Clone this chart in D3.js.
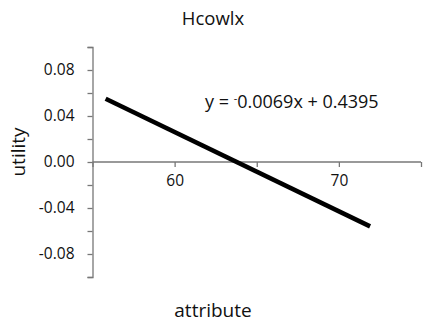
<!DOCTYPE html>
<html>
<head>
<meta charset="utf-8">
<script src="https://cdn.jsdelivr.net/npm/d3@7"></script>
<style>
  body { margin: 0; background: #fff; }
  text { font-family: "Open Sans", "Noto Sans", sans-serif; fill: #111; }
</style>
</head>
<body>
<script>
// chart size
const width = 423;
const height = 324;

// data
const title = 'Hcowlx';
const xLabel = 'attribute';
const yLabel = 'utility';
const lineX = [55.8, 71.9];
const lineY = [0.055, -0.056];
const xTicks = [55, 60, 65, 70, 75];
const xTickLabels = ['', '60', '', '70', ''];
const yTicks = [-0.10, -0.08, -0.06, -0.04, -0.02, 0, 0.02, 0.04, 0.06, 0.08, 0.10];
const yTickLabels = ['', '-0.08', '', '-0.04', '', '0.00', '', '0.04', '', '0.08', ''];
const eqSign = '-';
const eqRest = '0.0069x + 0.4395';

const svg = d3.select('body')
  .append('svg')
  .attr('width', width)
  .attr('height', height);

const x = d3.scaleLinear().domain([55, 75]).range([92.5, 421]);
const y = d3.scaleLinear().domain([-0.10, 0.10]).range([277, 47]);

// y axis at the left edge
const yAxis = svg.append('g')
  .attr('transform', `translate(${x(55)},0)`)
  .call(d3.axisLeft(y)
    .tickValues(yTicks)
    .tickSize(5)
    .tickPadding(13)
    .tickFormat((d, i) => yTickLabels[i]));

// x axis through zero
const xAxis = svg.append('g')
  .attr('transform', `translate(0,${y(0)})`)
  .call(d3.axisBottom(x)
    .tickValues(xTicks)
    .tickSize(5)
    .tickPadding(8)
    .tickFormat((d, i) => xTickLabels[i]));

[xAxis, yAxis].forEach(g => {
  g.select('.domain').attr('stroke', '#777').attr('stroke-width', 1.3);
  g.selectAll('.tick line').attr('stroke', '#777').attr('stroke-width', 1.3);
  g.selectAll('.tick text')
    .attr('font-family', '"Open Sans", sans-serif')
    .attr('font-size', 15.5)
    .attr('fill', '#111');
});
xAxis.select('.domain').attr('d', `M${x(55)},0H${x(75)}`);

// regression line
svg.append('path')
  .datum(d3.zip(lineX, lineY))
  .attr('d', d3.line().x(d => x(d[0])).y(d => y(d[1])))
  .attr('fill', 'none')
  .attr('stroke', '#000')
  .attr('stroke-width', 4.5);

// equation
const eq = svg.append('text')
  .attr('x', 205)
  .attr('y', 108)
  .attr('font-size', 18);
eq.append('tspan').text('y = ');
eq.append('tspan').attr('font-size', 11).attr('dy', -6).text(eqSign);
eq.append('tspan').attr('dy', 6).text(eqRest);

// title
svg.append('text')
  .attr('x', 213)
  .attr('y', 25)
  .attr('text-anchor', 'middle')
  .attr('font-size', 18.5)
  .text(title);

// axis labels
svg.append('text')
  .attr('x', 213)
  .attr('y', 317)
  .attr('text-anchor', 'middle')
  .attr('font-size', 19)
  .text(xLabel);

svg.append('text')
  .attr('transform', 'translate(25,152) rotate(-90)')
  .attr('text-anchor', 'middle')
  .attr('font-size', 19)
  .text(yLabel);
</script>
</body>
</html>
